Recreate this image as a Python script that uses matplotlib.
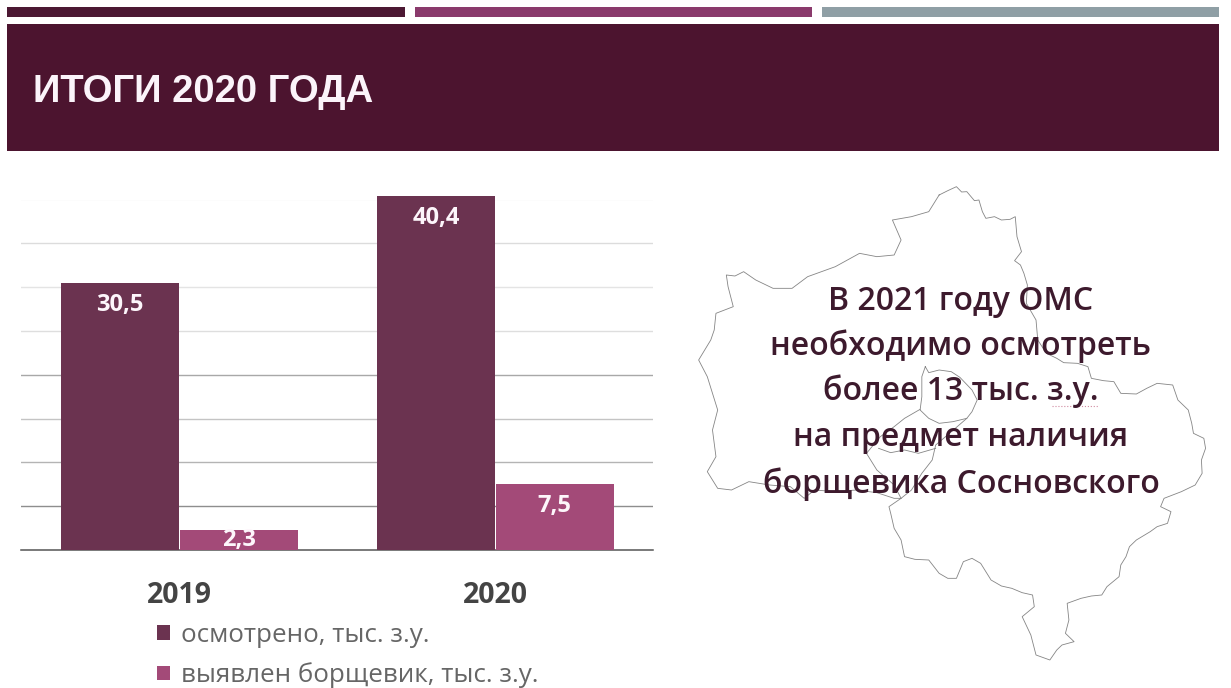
import matplotlib
matplotlib.use("Agg")
import matplotlib.pyplot as plt
from matplotlib.patches import Rectangle

W, H = 1231, 688

years = ["2019", "2020"]
osmotreno = [30.5, 40.4]
vyyavlen = [2.3, 7.5]
labels_osm = ["30,5", "40,4"]
labels_vyy = ["2,3", "7,5"]
series_names = ["осмотрено, тыс. з.у.", "выявлен борщевик, тыс. з.у."]
grid_values = [5, 10, 15, 20, 25, 30, 35, 40]
grid_colors = ["#8e8e8e", "#b4b4b4", "#c4c4c4", "#a8a8a8", "#dedede", "#e4e4e4", "#dcdcdc", "#f2f2f2"]

title = "ИТОГИ 2020 ГОДА"
note_lines = [
    "В 2021 году ОМС",
    "необходимо осмотреть",
    "более 13 тыс. з.у.",
    "на предмет наличия",
    "борщевика Сосновского",
]
note_y = [301, 346, 391, 438, 484]

# контур области (пиксели кропа 541x518)
outline = [
    (720, 75), (745, 62), (770, 50), (785, 66), (800, 65), (822, 92), (835, 90), (845, 125), (855, 145),
    (880, 140), (900, 150), (925, 148), (940, 140), (945, 200), (958, 245), (938, 272), (955, 285), (965, 310),
    (975, 345), (972, 400), (1000, 450), (1005, 510), (1030, 550), (1060, 565), (1080, 578), (1120, 580),
    (1150, 590), (1160, 625), (1195, 632), (1225, 635), (1245, 670), (1290, 672), (1320, 655), (1350, 640),
    (1395, 645), (1410, 690), (1440, 720), (1450, 760), (1455, 790), (1485, 805), (1490, 835), (1478, 870),
    (1480, 910), (1460, 945), (1420, 965), (1370, 985), (1360, 1010), (1390, 1025), (1380, 1060), (1350, 1070),
    (1330, 1085), (1290, 1110), (1270, 1130), (1260, 1160), (1245, 1185), (1240, 1220), (1205, 1250),
    (1190, 1275), (1160, 1278), (1130, 1285), (1090, 1300), (1095, 1350), (1085, 1390), (1110, 1415),
    (1075, 1425), (1060, 1440), (1040, 1470), (1000, 1455), (985, 1395), (960, 1340), (995, 1310), (990, 1275),
    (960, 1268), (930, 1255), (900, 1248), (870, 1230), (840, 1180), (815, 1165), (790, 1175), (770, 1225),
    (745, 1225), (720, 1210), (690, 1170), (650, 1168), (620, 1160), (610, 1110), (590, 1075), (580, 1030),
    (575, 1010), (610, 985), (590, 985), (540, 968), (480, 960), (420, 965), (360, 960), (330, 985), (290, 950),
    (230, 945), (170, 935), (120, 960), (80, 955), (50, 905), (75, 860), (65, 780), (80, 720), (62, 660),
    (50, 620), (25, 570), (60, 510), (70, 480), (75, 430), (125, 410), (110, 350), (105, 315), (130, 318),
    (155, 305), (190, 330), (240, 355), (295, 355), (340, 320), (380, 305), (420, 290), (490, 250), (540, 260),
    (590, 255), (610, 210), (585, 150), (640, 140), (690, 125), (720, 75),
]
ring = [
    (680, 590), (690, 608), (720, 600), (755, 605), (780, 622), (815, 660), (830, 690), (815, 725), (800, 745),
    (760, 755), (720, 760), (690, 745), (665, 720), (670, 680), (670, 620), (680, 590),
]
inner_west = [(665, 718), (620, 745), (590, 770), (550, 800), (510, 850), (540, 900), (590, 945), (610, 985)]
inner_south = [(800, 745), (750, 790), (710, 825), (700, 870), (670, 910), (640, 960), (610, 985)]
inner_mid = [(545, 835), (580, 848), (620, 840), (660, 850), (710, 835)]

fig = plt.figure(figsize=(W / 100, H / 100), dpi=100, facecolor="white")

# слой для оформления в пикселях
bg = fig.add_axes([0, 0, 1, 1])
bg.set_xlim(0, W)
bg.set_ylim(H, 0)
bg.axis("off")

bg.add_patch(Rectangle((7, 7), 398, 10, color="#4c1833", lw=0))
bg.add_patch(Rectangle((415, 7), 397, 10, color="#8a3a6c", lw=0))
bg.add_patch(Rectangle((822, 7), 397, 10, color="#8f9fa5", lw=0))
bg.add_patch(Rectangle((7, 24), 1212, 127, color="#4c142f", lw=0))
bg.text(33, 92, title, color="#fbf4fa", fontsize=27.5, fontweight="bold",
        family="Liberation Sans", va="center", ha="left")

for line in [outline, ring, inner_west, inner_south, inner_mid]:
    xs = [690 + p[0] / 2.89 for p in line]
    ys = [170 + p[1] / 3.0 for p in line]
    bg.plot(xs, ys, color="#858585", lw=0.6)

for txt, y in zip(note_lines, note_y):
    bg.text(961, y, txt, color="#3d1a2d", fontsize=23, fontweight=600,
            family="Open Sans", ha="center", va="center")
bg.plot([1052, 1098], [406, 406], color="#d08aa0", lw=0.8, ls=":")

# сам график
left, right, top, bottom = 21, 653, 199.5, 550
ax = fig.add_axes([left / W, 1 - bottom / H, (right - left) / W, (bottom - top) / H])
ax.patch.set_alpha(0)
ax.set_xlim(-0.5, 1.5)
ax.set_ylim(0, 40)

width = 118 / 316
x = [0, 1]
bars1 = ax.bar([v - width / 2 for v in x], osmotreno, width, color="#6b3350", label=series_names[0], zorder=3, clip_on=False)
bars2 = ax.bar([v + width / 2 + 0.002 for v in x], vyyavlen, width, color="#a34a78", label=series_names[1], zorder=3)

for bars, labels in [(bars1, labels_osm), (bars2, labels_vyy)]:
    for bar, lab in zip(bars, labels):
        h = bar.get_height()
        off = -22 if h > 5 else -10
        ax.annotate(lab, (bar.get_x() + bar.get_width() / 2, h), xytext=(0, off * 0.72),
                    textcoords="offset points", ha="center", va="center", annotation_clip=False,
                    color="#fdf6fb", fontsize=17, fontweight="bold", family="Open Sans", zorder=4)

ax.set_yticks(grid_values)
ax.grid(True, axis="y", lw=1, zorder=0)
ax.set_axisbelow(True)
for gl, c in zip(ax.get_ygridlines(), grid_colors):
    gl.set_color(c)
ax.tick_params(axis="both", length=0, labelleft=False)
ax.set_xticks(x)
ax.set_xticklabels(years, fontsize=20.5, fontweight="bold", color="#444444", family="Open Sans")
ax.tick_params(axis="x", pad=22)
for s in ["top", "left", "right"]:
    ax.spines[s].set_visible(False)
ax.spines["bottom"].set_color("#555555")
ax.spines["bottom"].set_linewidth(1.1)

ax.legend(loc="upper left", bbox_to_anchor=(157 / W, 1 - 623 / H), bbox_transform=fig.transFigure,
          frameon=False, ncol=1, labelcolor="#666666", handlelength=0.5, handleheight=0.5,
          handletextpad=0.42, labelspacing=0.55, borderpad=0, borderaxespad=0,
          prop={"family": "Open Sans", "size": 18.7})

fig.savefig("out.png", dpi=100)
